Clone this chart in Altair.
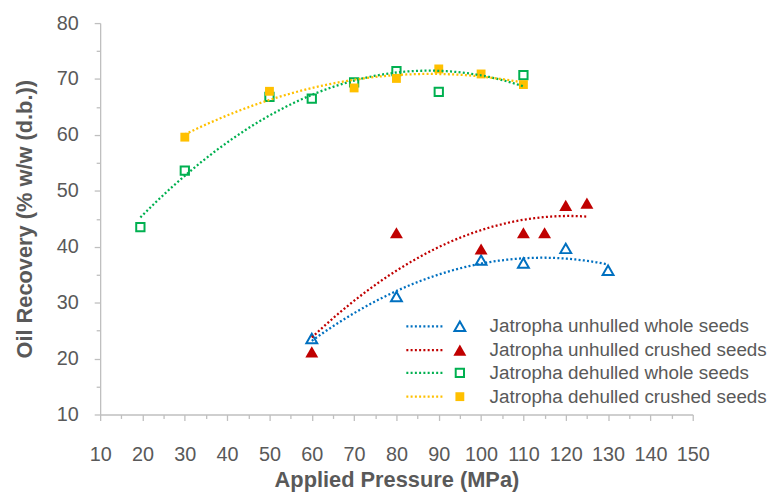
import altair as alt
import pandas as pd

# ---- data ----
uw_x = [60, 80, 100, 110, 120, 130]
uw_y = [23.6, 31.1, 37.6, 37.1, 39.7, 35.8]
uc_x = [60, 80, 100, 110, 115, 120, 125]
uc_y = [21.2, 42.5, 39.6, 42.5, 42.5, 47.4, 47.8]
dw_x = [19.5, 30, 50, 60, 70, 80, 90, 110]
dw_y = [43.5, 53.6, 66.8, 66.5, 69.4, 71.4, 67.7, 70.7]
dc_x = [30, 50, 70, 80, 90, 100, 110]
dc_y = [59.6, 67.8, 68.4, 70.1, 71.8, 70.9, 69.0]

labels = [
    "Jatropha unhulled whole seeds",
    "Jatropha unhulled crushed seeds",
    "Jatropha dehulled whole seeds",
    "Jatropha dehulled crushed seeds",
]
colors = ["#0070C0", "#C00000", "#00B050", "#FFC000"]
shapes = ["triangle-up", "triangle-up", "square", "square"]
filled = [False, True, False, True]
sizes = [120, 170, 70, 80]

x_ticks = list(range(10, 151, 5))
y_ticks = list(range(10, 81, 5))

FONT = "Liberation Sans"
GREY = "#595959"
AX = "#BFBFBF"

series = [(uw_x, uw_y), (uc_x, uc_y), (dw_x, dw_y), (dc_x, dc_y)]

xscale = alt.Scale(domain=[10, 150], nice=False)
yscale = alt.Scale(domain=[10, 80], nice=False)

xaxis = alt.Axis(
    values=x_ticks,
    labelExpr="datum.value % 10 === 0 ? datum.label : ''",
    labelOverlap=False, labelFlush=False,
    grid=False,
    domainColor=AX, tickColor=AX, domainWidth=1.3, tickWidth=1.3,
    tickSize={"condition": {"test": "datum.value % 10 === 0", "value": 6}, "value": 4},
    labelFont=FONT, labelFontSize=20, labelColor=GREY, labelPadding=24,
    title="Applied Pressure (MPa)", titleFont=FONT, titleFontSize=22,
    titleFontWeight="bold", titleColor=GREY, titlePadding=6,
)
yaxis = alt.Axis(
    values=y_ticks,
    labelExpr="datum.value % 10 === 0 ? datum.label : ''",
    labelOverlap=False, labelFlush=False,
    grid=False,
    domainColor=AX, tickColor=AX, domainWidth=1.3, tickWidth=1.3,
    tickSize={"condition": {"test": "datum.value % 10 === 0", "value": 6}, "value": 4},
    labelFont=FONT, labelFontSize=20, labelColor=GREY, labelPadding=16,
    title="Oil Recovery (% w/w (d.b.))", titleFont=FONT, titleFontSize=22,
    titleFontWeight="bold", titleColor=GREY, titlePadding=20,
)

layers = []
# markers
for i, (xs, ys) in enumerate(series):
    df = pd.DataFrame({"x": xs, "y": ys})
    if filled[i]:
        mk = alt.Chart(df).mark_point(shape=shapes[i], filled=True, fill=colors[i],
                                      opacity=1, size=sizes[i])
    else:
        mk = alt.Chart(df).mark_point(shape=shapes[i], filled=False, stroke=colors[i],
                                      strokeWidth=2, opacity=1, size=sizes[i])
    layers.append(mk.encode(x=alt.X("x:Q", scale=xscale, axis=xaxis),
                            y=alt.Y("y:Q", scale=yscale, axis=yaxis)))

# polynomial trend lines (order 2)
for i, (xs, ys) in enumerate(series):
    df = pd.DataFrame({"x": xs, "y": ys})
    ln = (alt.Chart(df)
          .transform_regression("x", "y", method="poly", order=2)
          .mark_line(color=colors[i], strokeWidth=2.3, strokeDash=[2, 2.3])
          .encode(x=alt.X("x:Q", scale=xscale, axis=xaxis),
                  y=alt.Y("y:Q", scale=yscale, axis=yaxis)))
    layers.append(ln)

# legend (inside plot, bottom right)
row_y = [306, 330, 353, 377]
for i, lab in enumerate(labels):
    ldf = pd.DataFrame({"label": [lab]})
    layers.append(alt.Chart(ldf).mark_rule(color=colors[i], strokeWidth=2.3,
                                           strokeDash=[2, 2.3]).encode(
        x=alt.value(309), x2=alt.value(346), y=alt.value(row_y[i])))
    if filled[i]:
        pm = alt.Chart(ldf).mark_point(shape=shapes[i], filled=True, fill=colors[i],
                                       opacity=1, size=sizes[i])
    else:
        pm = alt.Chart(ldf).mark_point(shape=shapes[i], filled=False, stroke=colors[i],
                                       strokeWidth=2, opacity=1, size=sizes[i])
    layers.append(pm.encode(x=alt.value(363), y=alt.value(row_y[i])))
    layers.append(alt.Chart(ldf).mark_text(align="left", baseline="middle", font=FONT,
                                           fontSize=19, color=GREY).encode(
        x=alt.value(393), y=alt.value(row_y[i]), text="label:N"))

chart = alt.layer(*layers).properties(
    width=598, height=395,
    padding={"left": 93, "top": 13, "right": 80, "bottom": 76},
    autosize=alt.AutoSizeParams(type="none"),
).configure(background="white").configure_view(strokeWidth=0)

chart.save("out.html", embed_options={"renderer": "svg", "actions": False})
